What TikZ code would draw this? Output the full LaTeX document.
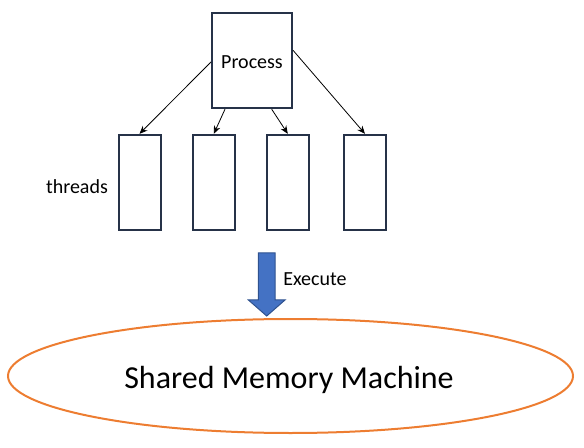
\documentclass[tikz,border=0pt]{standalone}
\usepackage{fontspec}
\setmainfont{Carlito}
\usetikzlibrary{arrows.meta,shapes.geometric}
\definecolor{boxline}{RGB}{38,50,72}
\definecolor{orangeline}{RGB}{237,125,49}
\definecolor{arrowfill}{RGB}{68,114,196}
\definecolor{arrowline}{RGB}{47,82,143}
\begin{document}
\begin{tikzpicture}[x=0.75pt,y=-0.75pt,
  procbox/.style={draw=boxline,line width=1.5pt,fill=white,minimum width=60pt,minimum height=71.5pt,inner sep=0pt},
  threadbox/.style={draw=boxline,line width=1.5pt,fill=white,minimum width=31.5pt,minimum height=71.5pt,inner sep=0pt},
  conn/.style={line width=0.6pt,-{Stealth[length=6pt,width=5pt]}},
  lbl/.style={font=\fontsize{15}{18}\selectfont,inner sep=0pt}]
\useasboundingbox (0,0) rectangle (584,448);
\node[procbox] (p) at (252,60.5) {};
\node[lbl] (ptxt) at (252,62.5) {Process};
\node[threadbox] (t1) at (139.5,182.5) {};
\node[threadbox] (t2) at (213.8,182.5) {};
\node[threadbox] (t3) at (287.8,182.5) {};
\node[threadbox] (t4) at (365,182.5) {};
\node[lbl] (thr) at (77,187) {threads};
\draw[conn] (p.182) -- (t1.north);
\draw[conn] (p.241) -- (t2.north);
\draw[conn] (p.292) -- (t3.north);
\draw[conn] (p.14) -- (t4.north);
\node[draw=orangeline,line width=1.5pt,ellipse,minimum width=423.75pt,minimum height=85.5pt,inner sep=0pt] (m) at (290.5,376) {};
\node[inner sep=0pt,font=\fontsize{24}{28}\selectfont] (mtxt) at (289,380) {Shared Memory Machine};
\draw[draw=arrowline,fill=arrowfill,line width=0.75pt,line join=miter]
  (258.3,253) -- (275,253) -- (275,300) -- (285,300) -- (266.7,316) -- (248.4,300) -- (258.3,300) -- cycle;
\node[lbl,anchor=west] (ex) at (283,279) {Execute};
\end{tikzpicture}
\end{document}
